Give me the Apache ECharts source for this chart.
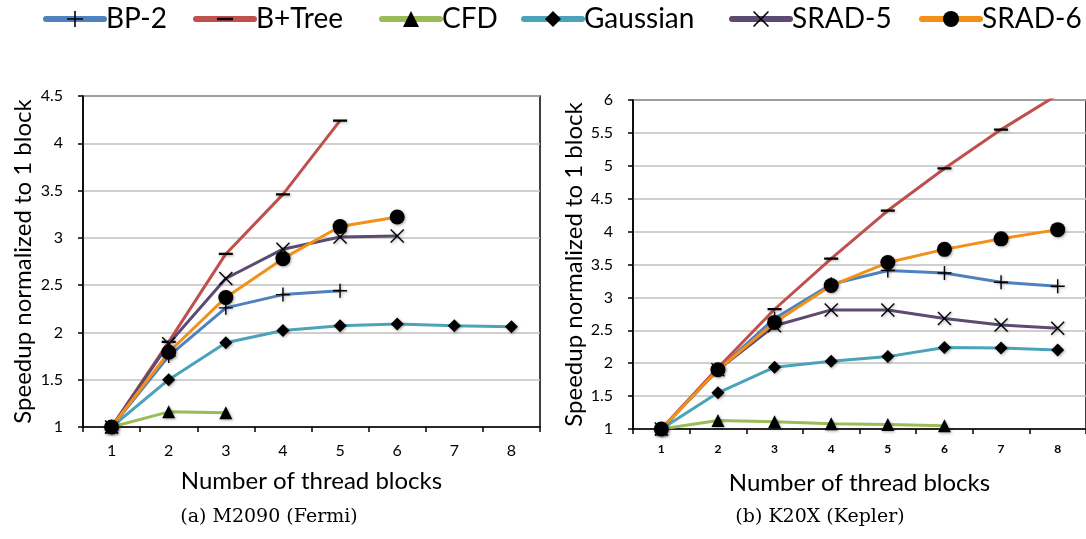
<!DOCTYPE html>
<html>
<head>
<meta charset="utf-8">
<script src="https://cdn.jsdelivr.net/npm/echarts@6/dist/echarts.min.js"></script>
<style>
  html, body { margin: 0; padding: 0; background: #fff; }
  #chart { width: 1086px; height: 539px; }
</style>
</head>
<body>
<div id="chart"></div>
<script>
// Thread-block counts on the x axis
const blocks = ['1', '2', '3', '4', '5', '6', '7', '8'];

// Benchmark names (legend order)
const names = ['BP-2', 'B+Tree', 'CFD', 'Gaussian', 'SRAD-5', 'SRAD-6'];

// (a) M2090 (Fermi) speedups, normalized to 1 block
const fermiBP2      = [1.0, 1.75, 2.26, 2.40, 2.44];
const fermiBTree    = [1.0, 1.90, 2.83, 3.46, 4.24];
const fermiCFD      = [1.0, 1.16, 1.15];
const fermiGaussian = [1.0, 1.50, 1.89, 2.02, 2.07, 2.09, 2.07, 2.06];
const fermiSRAD5    = [1.0, 1.88, 2.57, 2.88, 3.01, 3.02];
const fermiSRAD6    = [1.0, 1.79, 2.37, 2.78, 3.12, 3.22];

// (b) K20X (Kepler) speedups, normalized to 1 block
const keplerBP2      = [1.0, 1.90, 2.68, 3.20, 3.41, 3.37, 3.23, 3.17];
const keplerBTree    = [1.0, 1.93, 2.82, 3.59, 4.32, 4.96, 5.55, 6.08];
const keplerCFD      = [1.0, 1.13, 1.11, 1.08, 1.07, 1.05];
const keplerGaussian = [1.0, 1.55, 1.94, 2.03, 2.10, 2.24, 2.23, 2.20];
const keplerSRAD5    = [1.0, 1.90, 2.57, 2.81, 2.81, 2.68, 2.58, 2.53];
const keplerSRAD6    = [1.0, 1.90, 2.62, 3.18, 3.53, 3.73, 3.89, 4.03];

// Y-axis ranges
const fermiY  = { min: 1, max: 4.5, step: 0.5 };
const keplerY = { min: 1, max: 6,   step: 0.5 };

const colors = ['#4F81BD', '#C0504D', '#9BBB59', '#4BA3BA', '#5C4A72', '#F39019'];

// Marker shapes, drawn in black.
// The dash keeps a square bounding box (tiny corner specks) so it stays flat
// both on the lines and in the legend.
const PLUS  = 'path://M9,0 H11 V9 H20 V11 H11 V20 H9 V11 H0 V9 H9 Z';
const DASH  = 'path://M0,8.4 H20 V11.6 H0 Z M0,0 L0.01,0 L0,0.01 Z M20,20 L19.99,20 L20,19.99 Z';
const CROSS = 'path://M1.4,0 L10,8.6 L18.6,0 L20,1.4 L11.4,10 L20,18.6 L18.6,20 L10,11.4 L1.4,20 L0,18.6 L8.6,10 L0,1.4 Z';
const symbols = [PLUS, DASH, 'triangle', 'diamond', CROSS, 'circle'];
const symbolSizes = [14, 14, 13, 13, 14, 15];

// Left edge of each legend entry
const legendLefts = [38, 188, 374, 516, 724, 914];

const FONT = 'Lato, "Open Sans", sans-serif';

function makeSeries(dataSets, gridIdx) {
  return dataSets.map((d, i) => ({
    name: names[i],
    type: 'line',
    xAxisIndex: gridIdx,
    yAxisIndex: gridIdx,
    data: d,
    symbol: symbols[i],
    symbolSize: symbolSizes[i],
    showAllSymbol: true,
    clip: true,
    z: 3 + i,
    lineStyle: { color: colors[i], width: 3 },
    itemStyle: {
      color: '#000',
      shadowColor: 'rgba(0,0,0,0.35)',
      shadowBlur: 3,
      shadowOffsetX: 1,
      shadowOffsetY: 1
    },
    emphasis: { disabled: true },
    animation: false
  }));
}

function xAxisFor(gridIdx, bold, labelSize, labelMargin) {
  return {
    type: 'category',
    gridIndex: gridIdx,
    data: blocks,
    boundaryGap: true,
    name: 'Number of thread blocks',
    nameLocation: 'middle',
    nameGap: 42,
    nameTextStyle: { fontFamily: FONT, fontSize: 24, color: '#000' },
    axisLine: { lineStyle: { color: '#000', width: 1.5 } },
    axisTick: { show: true, interval: 0, length: 5, lineStyle: { color: '#000', width: 1.5 } },
    axisLabel: {
      fontFamily: FONT, fontSize: labelSize, color: '#000',
      fontWeight: bold ? 'bold' : 'normal', margin: labelMargin
    },
    splitLine: { show: false }
  };
}

function yAxisFor(gridIdx, range, nameGap) {
  return {
    type: 'value',
    gridIndex: gridIdx,
    min: range.min,
    max: range.max,
    interval: range.step,
    name: 'Speedup normalized to 1 block',
    nameLocation: 'middle',
    nameGap: nameGap,
    nameTextStyle: { fontFamily: FONT, fontSize: 24, color: '#000' },
    axisLine: { show: true, lineStyle: { color: '#000', width: 1.5 } },
    axisTick: { show: true, length: 5, lineStyle: { color: '#000', width: 1.5 } },
    axisLabel: { fontFamily: FONT, fontSize: 16, color: '#000', margin: 20 },
    splitLine: { show: true, lineStyle: { color: '#BFBFBF', width: 1.5 } }
  };
}

const legends = names.map((n, i) => ({
  data: [n],
  left: legendLefts[i],
  top: 0,
  itemWidth: 58,
  itemHeight: 20,
  textStyle: { fontFamily: FONT, fontSize: 28, color: '#000', padding: [0, 0, 0, -3] },
  lineStyle: { width: 6, cap: 'round' },
  selectedMode: false
}));

const chart = echarts.init(document.getElementById('chart'), null, { renderer: 'canvas' });

chart.setOption({
  animation: false,
  backgroundColor: '#fff',
  legend: legends,
  grid: [
    { left: 83, top: 96, width: 457, height: 331, show: true, borderColor: '#000', borderWidth: 1.5, backgroundColor: 'transparent' },
    { left: 633, top: 100, width: 456, height: 329, show: true, borderColor: '#000', borderWidth: 1.5, backgroundColor: 'transparent' }
  ],
  xAxis: [
    xAxisFor(0, false, 16, 16),
    xAxisFor(1, true, 12, 14)
  ],
  yAxis: [
    yAxisFor(0, fermiY, 48),
    yAxisFor(1, keplerY, 40)
  ],
  series: [
    ...makeSeries([fermiBP2, fermiBTree, fermiCFD, fermiGaussian, fermiSRAD5, fermiSRAD6], 0),
    ...makeSeries([keplerBP2, keplerBTree, keplerCFD, keplerGaussian, keplerSRAD5, keplerSRAD6], 1)
  ],
  graphic: [
    {
      type: 'text', x: 269, y: 517,
      style: { text: '(a) M2090 (Fermi)', textAlign: 'center', textVerticalAlign: 'middle',
               font: '19px "DejaVu Serif", serif', fill: '#000' }
    },
    {
      type: 'text', x: 820, y: 517,
      style: { text: '(b) K20X (Kepler)', textAlign: 'center', textVerticalAlign: 'middle',
               font: '19px "DejaVu Serif", serif', fill: '#000' }
    }
  ]
});
</script>
</body>
</html>
